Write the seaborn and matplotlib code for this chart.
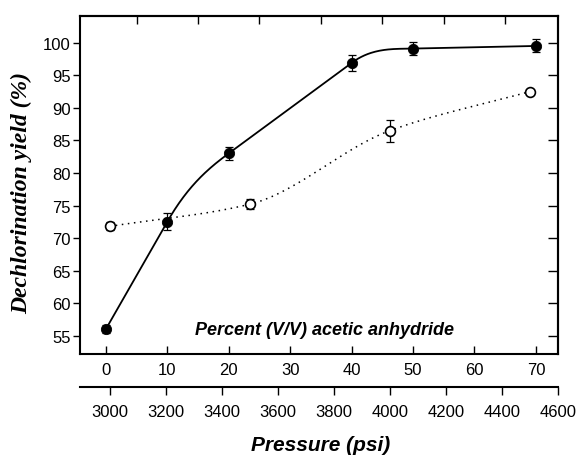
import numpy as np
import pandas as pd
import seaborn as sns
import matplotlib
matplotlib.use("Agg")
import matplotlib.pyplot as plt

# valores
percent = [0, 10, 20, 40, 50, 70]
yield_percent = [56.0, 72.5, 83.0, 96.9, 99.1, 99.5]
err_percent = [0.6, 1.3, 1.0, 1.2, 1.0, 1.0]

pressure = [3000, 3500, 4000, 4500]
yield_pressure = [71.8, 75.2, 86.5, 92.5]
err_pressure = [0.6, 0.8, 1.7, 0.3]

yticks = [55, 60, 65, 70, 75, 80, 85, 90, 95, 100]
percent_ticks = [0, 10, 20, 30, 40, 50, 60, 70]
pressure_ticks = [3000, 3200, 3400, 3600, 3800, 4000, 4200, 4400, 4600]


def hermite(x, y, m, xs):
    # curva de Hermite cubica passando pelos pontos com as tangentes m
    x = np.asarray(x, float)
    y = np.asarray(y, float)
    h = np.diff(x)
    idx = np.clip(np.searchsorted(x, xs) - 1, 0, len(x) - 2)
    t = (xs - x[idx]) / h[idx]
    h00 = 2 * t**3 - 3 * t**2 + 1
    h10 = t**3 - 2 * t**2 + t
    h01 = -2 * t**3 + 3 * t**2
    h11 = t**3 - t**2
    return h00 * y[idx] + h10 * h[idx] * m[idx] + h01 * y[idx + 1] + h11 * h[idx] * m[idx + 1]


def tangents_pchip(x, y):
    x = np.asarray(x, float)
    y = np.asarray(y, float)
    h = np.diff(x)
    d = np.diff(y) / h
    m = np.zeros_like(y)
    m[0], m[-1] = d[0], d[-1]
    for k in range(1, len(x) - 1):
        if d[k - 1] * d[k] > 0:
            w1 = 2 * h[k] + h[k - 1]
            w2 = h[k] + 2 * h[k - 1]
            m[k] = (w1 + w2) / (w1 / d[k - 1] + w2 / d[k])
    return m


def tangents_longer(x, y):
    # tangente = inclinacao do intervalo vizinho mais longo (curva "desenhada a mao")
    x = np.asarray(x, float)
    y = np.asarray(y, float)
    h = np.diff(x)
    d = np.diff(y) / h
    m = np.zeros_like(y)
    m[0], m[-1] = d[0], d[-1]
    for k in range(1, len(x) - 1):
        m[k] = d[k] if h[k] > h[k - 1] else d[k - 1]
    return m


sns.set_theme(style="ticks", rc={'axes.edgecolor': 'black', 'xtick.color': 'black',
                                 'ytick.color': 'black', 'text.color': 'black',
                                 'axes.labelcolor': 'black'})
plt.rcParams['font.family'] = ['Liberation Sans', 'DejaVu Sans']
plt.rcParams['axes.linewidth'] = 1.5

fig = plt.figure(figsize=(5.79, 4.56), dpi=100)
ax = fig.add_axes([80 / 579, 1 - 355 / 456, 478 / 579, 338 / 456])

df_p = pd.DataFrame({'x': percent, 'y': yield_percent})
xs = np.linspace(percent[0], percent[-1], 400)
curve_p = pd.DataFrame({'x': xs, 'y': hermite(percent, yield_percent,
                                               tangents_longer(percent, yield_percent), xs)})
sns.lineplot(data=curve_p, x='x', y='y', ax=ax, color='black', linewidth=1.3)
ax.errorbar(percent, yield_percent, yerr=err_percent, fmt='none', ecolor='black',
            elinewidth=0.9, capsize=3, capthick=0.9, zorder=3)
sns.scatterplot(data=df_p, x='x', y='y', ax=ax, color='black', s=55,
                edgecolor='black', zorder=4)

ax.set_xlim(-4.2, 73.6)
ax.set_ylim(52.2, 104.1)
ax.set_xticks(percent_ticks)
ax.set_yticks(yticks)
ax.tick_params(axis='x', direction='in', length=6, width=1, labelsize=12, pad=5.5)
ax.tick_params(axis='y', direction='out', length=5, width=1, labelsize=12, pad=1.5)
ax.set_xlabel('')
ax.set_ylabel('Dechlorination yield (%)', family=['Liberation Serif'],
              fontweight='bold', fontstyle='italic', fontsize=17)
ax.yaxis.set_label_coords(-0.100, 0.48)

# ticks para dentro no lado direito e no topo
sec_r = ax.secondary_yaxis('right')
sec_r.set_yticks(yticks)
sec_r.tick_params(direction='in', length=7, width=1, labelright=False)
sec_t = ax.secondary_xaxis('top')
sec_t.set_xticks([5, 15, 25, 35, 45, 55, 65])
sec_t.tick_params(direction='in', length=6, width=1, labeltop=False)

ax.text(0.511, 0.059, 'Percent (V/V) acetic anhydride', transform=ax.transAxes,
        ha='center', va='baseline', fontsize=13, fontweight='bold', fontstyle='italic')

# segundo eixo: pressao
ax2 = ax.twiny()
df_q = pd.DataFrame({'x': pressure, 'y': yield_pressure})
qs = np.linspace(pressure[0], pressure[-1], 400)
curve_q = pd.DataFrame({'x': qs, 'y': hermite(pressure, yield_pressure,
                                               tangents_pchip(pressure, yield_pressure), qs)})
sns.lineplot(data=curve_q, x='x', y='y', ax=ax2, color='black', linewidth=1.1,
             linestyle=(0, (1, 3)))
ax2.errorbar(pressure, yield_pressure, yerr=err_pressure, fmt='none', ecolor='black',
             elinewidth=0.9, capsize=3, capthick=0.9, zorder=3)
sns.scatterplot(data=df_q, x='x', y='y', ax=ax2, color='white', s=50,
                edgecolor='black', linewidth=1.2, zorder=4)
ax2.set_xlim(2894, 4600)
ax2.set_xticks(pressure_ticks)
ax2.xaxis.set_ticks_position('bottom')
ax2.xaxis.set_label_position('bottom')
ax2.spines['bottom'].set_position(('outward', 23.8))
for s in ['top', 'left', 'right']:
    ax2.spines[s].set_visible(False)
ax2.tick_params(axis='x', direction='out', length=6, width=1, labelsize=12, pad=6)
ax2.set_xlabel('')
ax2.set_ylabel('')

fig.text(321 / 579, 1 - 451 / 456, 'Pressure (psi)', ha='center', va='baseline',
         fontsize=15, fontweight='bold', fontstyle='italic')

fig.savefig('out.png', dpi=100)
